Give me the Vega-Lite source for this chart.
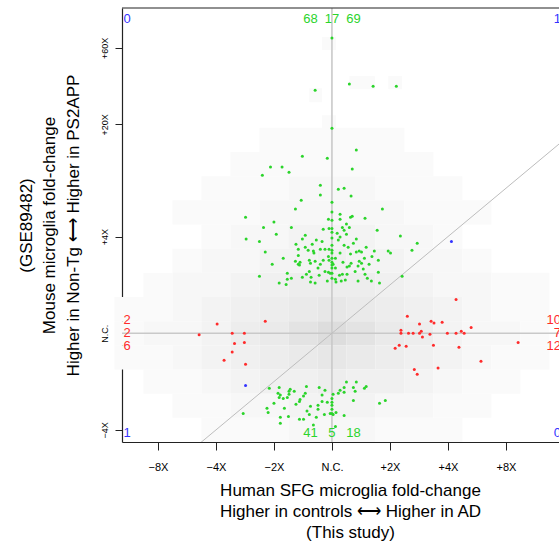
{
  "$schema": "https://vega.github.io/schema/vega-lite/v6.json",
  "width": 437,
  "height": 434,
  "autosize": {"type": "none"},
  "padding": {"left": 122, "top": 8, "right": 0, "bottom": 103},
  "background": "white",
  "view": {"stroke": null},
  "config": {"font": "Liberation Sans"},
  "datasets": {
    "density": [
      {"x1": -0.17, "x2": 0.07, "y1": 5.86, "y2": 6.13, "v": 1},
      {"x1": -0.39, "x2": -0.17, "y1": 4.78, "y2": 5.07, "v": 1},
      {"x1": 0.30, "x2": 0.74, "y1": 5.05, "y2": 5.32, "v": 1},
      {"x1": 0.97, "x2": 1.21, "y1": 5.05, "y2": 5.32, "v": 1},
      {"x1": -0.17, "x2": 0.07, "y1": 4.24, "y2": 4.51, "v": 1},
      {"x1": 0.30, "x2": 0.52, "y1": 3.70, "y2": 3.98, "v": 1},
      {"x1": -1.25, "x2": 1.25, "y1": 3.75, "y2": 4.25, "v": 1},
      {"x1": -1.75, "x2": 1.75, "y1": 3.25, "y2": 3.75, "v": 1},
      {"x1": -2.25, "x2": -0.75, "y1": 2.75, "y2": 3.25, "v": 1},
      {"x1": -0.75, "x2": 0.75, "y1": 2.75, "y2": 3.25, "v": 2},
      {"x1": 0.75, "x2": 2.25, "y1": 2.75, "y2": 3.25, "v": 1},
      {"x1": -2.75, "x2": -1.25, "y1": 2.25, "y2": 2.75, "v": 1},
      {"x1": -1.25, "x2": 1.25, "y1": 2.25, "y2": 2.75, "v": 2},
      {"x1": 1.25, "x2": 2.75, "y1": 2.25, "y2": 2.75, "v": 1},
      {"x1": -2.25, "x2": -1.75, "y1": 1.75, "y2": 2.25, "v": 1},
      {"x1": -1.75, "x2": -0.75, "y1": 1.75, "y2": 2.25, "v": 2},
      {"x1": -0.75, "x2": 0.75, "y1": 1.75, "y2": 2.25, "v": 3},
      {"x1": 0.75, "x2": 1.75, "y1": 1.75, "y2": 2.25, "v": 2},
      {"x1": 1.75, "x2": 2.25, "y1": 1.75, "y2": 2.25, "v": 1},
      {"x1": -2.75, "x2": -2.25, "y1": 1.25, "y2": 1.75, "v": 1},
      {"x1": -2.25, "x2": -1.25, "y1": 1.25, "y2": 1.75, "v": 2},
      {"x1": -1.25, "x2": -0.25, "y1": 1.25, "y2": 1.75, "v": 3},
      {"x1": -0.25, "x2": 0.25, "y1": 1.25, "y2": 1.75, "v": 4},
      {"x1": 0.25, "x2": 1.25, "y1": 1.25, "y2": 1.75, "v": 3},
      {"x1": 1.25, "x2": 2.25, "y1": 1.25, "y2": 1.75, "v": 2},
      {"x1": 2.25, "x2": 2.75, "y1": 1.25, "y2": 1.75, "v": 1},
      {"x1": -3.25, "x2": -2.75, "y1": 0.75, "y2": 1.25, "v": 1},
      {"x1": -2.75, "x2": -1.75, "y1": 0.75, "y2": 1.25, "v": 2},
      {"x1": -1.75, "x2": -1.25, "y1": 0.75, "y2": 1.25, "v": 3},
      {"x1": -1.25, "x2": -0.75, "y1": 0.75, "y2": 1.25, "v": 4},
      {"x1": -0.75, "x2": 0.75, "y1": 0.75, "y2": 1.25, "v": 5},
      {"x1": 0.75, "x2": 1.25, "y1": 0.75, "y2": 1.25, "v": 4},
      {"x1": 1.25, "x2": 1.75, "y1": 0.75, "y2": 1.25, "v": 3},
      {"x1": 1.75, "x2": 2.75, "y1": 0.75, "y2": 1.25, "v": 2},
      {"x1": 2.75, "x2": 3.75, "y1": 0.75, "y2": 1.25, "v": 1},
      {"x1": -3.75, "x2": -2.75, "y1": 0.25, "y2": 0.75, "v": 1},
      {"x1": -2.75, "x2": -2.25, "y1": 0.25, "y2": 0.75, "v": 2},
      {"x1": -2.25, "x2": -1.75, "y1": 0.25, "y2": 0.75, "v": 3},
      {"x1": -1.75, "x2": -1.25, "y1": 0.25, "y2": 0.75, "v": 4},
      {"x1": -1.25, "x2": -0.75, "y1": 0.25, "y2": 0.75, "v": 5},
      {"x1": -0.75, "x2": -0.25, "y1": 0.25, "y2": 0.75, "v": 6},
      {"x1": -0.25, "x2": 0.25, "y1": 0.25, "y2": 0.75, "v": 7},
      {"x1": 0.25, "x2": 0.75, "y1": 0.25, "y2": 0.75, "v": 6},
      {"x1": 0.75, "x2": 1.25, "y1": 0.25, "y2": 0.75, "v": 5},
      {"x1": 1.25, "x2": 1.75, "y1": 0.25, "y2": 0.75, "v": 4},
      {"x1": 1.75, "x2": 2.25, "y1": 0.25, "y2": 0.75, "v": 3},
      {"x1": 2.25, "x2": 2.75, "y1": 0.25, "y2": 0.75, "v": 2},
      {"x1": 2.75, "x2": 3.75, "y1": 0.25, "y2": 0.75, "v": 1},
      {"x1": -3.75, "x2": -3.25, "y1": -0.25, "y2": 0.25, "v": 1},
      {"x1": -3.25, "x2": -2.25, "y1": -0.25, "y2": 0.25, "v": 2},
      {"x1": -2.25, "x2": -1.75, "y1": -0.25, "y2": 0.25, "v": 3},
      {"x1": -1.75, "x2": -1.25, "y1": -0.25, "y2": 0.25, "v": 5},
      {"x1": -1.25, "x2": -0.75, "y1": -0.25, "y2": 0.25, "v": 6},
      {"x1": -0.75, "x2": -0.25, "y1": -0.25, "y2": 0.25, "v": 8},
      {"x1": -0.25, "x2": 0.25, "y1": -0.25, "y2": 0.25, "v": 10},
      {"x1": 0.25, "x2": 0.75, "y1": -0.25, "y2": 0.25, "v": 8},
      {"x1": 0.75, "x2": 1.25, "y1": -0.25, "y2": 0.25, "v": 6},
      {"x1": 1.25, "x2": 1.75, "y1": -0.25, "y2": 0.25, "v": 5},
      {"x1": 1.75, "x2": 2.25, "y1": -0.25, "y2": 0.25, "v": 3},
      {"x1": 2.25, "x2": 3.25, "y1": -0.25, "y2": 0.25, "v": 2},
      {"x1": 3.25, "x2": 3.75, "y1": -0.25, "y2": 0.25, "v": 1},
      {"x1": -3.75, "x2": -2.75, "y1": -0.75, "y2": -0.25, "v": 1},
      {"x1": -2.75, "x2": -2.25, "y1": -0.75, "y2": -0.25, "v": 2},
      {"x1": -2.25, "x2": -1.75, "y1": -0.75, "y2": -0.25, "v": 3},
      {"x1": -1.75, "x2": -1.25, "y1": -0.75, "y2": -0.25, "v": 4},
      {"x1": -1.25, "x2": -0.75, "y1": -0.75, "y2": -0.25, "v": 5},
      {"x1": -0.75, "x2": -0.25, "y1": -0.75, "y2": -0.25, "v": 6},
      {"x1": -0.25, "x2": 0.25, "y1": -0.75, "y2": -0.25, "v": 7},
      {"x1": 0.25, "x2": 0.75, "y1": -0.75, "y2": -0.25, "v": 6},
      {"x1": 0.75, "x2": 1.25, "y1": -0.75, "y2": -0.25, "v": 5},
      {"x1": 1.25, "x2": 1.75, "y1": -0.75, "y2": -0.25, "v": 4},
      {"x1": 1.75, "x2": 2.25, "y1": -0.75, "y2": -0.25, "v": 3},
      {"x1": 2.25, "x2": 2.75, "y1": -0.75, "y2": -0.25, "v": 2},
      {"x1": 2.75, "x2": 3.75, "y1": -0.75, "y2": -0.25, "v": 1},
      {"x1": -3.25, "x2": -2.25, "y1": -1.25, "y2": -0.75, "v": 1},
      {"x1": -2.25, "x2": -1.75, "y1": -1.25, "y2": -0.75, "v": 2},
      {"x1": -1.75, "x2": -1.25, "y1": -1.25, "y2": -0.75, "v": 3},
      {"x1": -1.25, "x2": -0.25, "y1": -1.25, "y2": -0.75, "v": 4},
      {"x1": -0.25, "x2": 0.25, "y1": -1.25, "y2": -0.75, "v": 5},
      {"x1": 0.25, "x2": 1.25, "y1": -1.25, "y2": -0.75, "v": 4},
      {"x1": 1.25, "x2": 1.75, "y1": -1.25, "y2": -0.75, "v": 3},
      {"x1": 1.75, "x2": 2.25, "y1": -1.25, "y2": -0.75, "v": 2},
      {"x1": 2.25, "x2": 3.25, "y1": -1.25, "y2": -0.75, "v": 1},
      {"x1": -2.75, "x2": -1.75, "y1": -1.75, "y2": -1.25, "v": 1},
      {"x1": -1.75, "x2": -0.75, "y1": -1.75, "y2": -1.25, "v": 2},
      {"x1": -0.75, "x2": 0.75, "y1": -1.75, "y2": -1.25, "v": 3},
      {"x1": 0.75, "x2": 1.75, "y1": -1.75, "y2": -1.25, "v": 2},
      {"x1": 1.75, "x2": 2.75, "y1": -1.75, "y2": -1.25, "v": 1},
      {"x1": -2.25, "x2": -0.75, "y1": -2.25, "y2": -1.75, "v": 1},
      {"x1": -0.75, "x2": 0.75, "y1": -2.25, "y2": -1.75, "v": 2},
      {"x1": 0.75, "x2": 2.25, "y1": -2.25, "y2": -1.75, "v": 1}
    ],
    "genes": [
      {"h": 0.30, "m": 5.16, "g": "mouse"}, {"h": 0.71, "m": 5.11, "g": "mouse"}, {"h": 1.11, "m": 5.11, "g": "mouse"},
      {"h": 0.42, "m": 3.79, "g": "mouse"}, {"h": 0.35, "m": 3.40, "g": "mouse"}, {"h": 0.11, "m": 2.98, "g": "mouse"},
      {"h": 0.21, "m": 3.00, "g": "mouse"}, {"h": 0.33, "m": 2.84, "g": "mouse"}, {"h": 0.87, "m": 2.57, "g": "mouse"},
      {"h": 0.14, "m": 2.46, "g": "mouse"}, {"h": 0.14, "m": 2.36, "g": "mouse"}, {"h": 0.32, "m": 2.40, "g": "mouse"},
      {"h": 0.35, "m": 2.42, "g": "mouse"}, {"h": 0.57, "m": 2.38, "g": "mouse"}, {"h": 1.18, "m": 2.01, "g": "mouse"},
      {"h": 1.47, "m": 1.86, "g": "mouse"}, {"h": 1.38, "m": 1.72, "g": "mouse"}, {"h": 1.21, "m": 1.18, "g": "mouse"},
      {"h": 0.78, "m": 2.13, "g": "mouse"}, {"h": 0.25, "m": 2.26, "g": "mouse"}, {"h": 0.18, "m": 2.19, "g": "mouse"},
      {"h": 0.30, "m": 2.19, "g": "mouse"}, {"h": 0.21, "m": 2.13, "g": "mouse"}, {"h": 0.25, "m": 2.05, "g": "mouse"},
      {"h": 0.14, "m": 1.99, "g": "mouse"}, {"h": 0.42, "m": 1.95, "g": "mouse"}, {"h": 0.21, "m": 1.82, "g": "mouse"},
      {"h": 0.28, "m": 1.78, "g": "mouse"}, {"h": 0.59, "m": 1.78, "g": "mouse"}, {"h": 0.73, "m": 1.70, "g": "mouse"},
      {"h": 0.42, "m": 1.68, "g": "mouse"}, {"h": 0.47, "m": 1.70, "g": "mouse"}, {"h": 0.51, "m": 1.68, "g": "mouse"},
      {"h": 0.97, "m": 1.70, "g": "mouse"}, {"h": 1.01, "m": 1.66, "g": "mouse"}, {"h": 0.14, "m": 1.66, "g": "mouse"},
      {"h": 0.32, "m": 1.64, "g": "mouse"}, {"h": 0.06, "m": 1.55, "g": "mouse"}, {"h": 0.02, "m": 1.43, "g": "mouse"},
      {"h": 0.33, "m": 1.45, "g": "mouse"}, {"h": 0.47, "m": 1.49, "g": "mouse"}, {"h": 0.51, "m": 1.45, "g": "mouse"},
      {"h": 0.64, "m": 1.43, "g": "mouse"}, {"h": 0.80, "m": 1.51, "g": "mouse"}, {"h": 0.06, "m": 1.35, "g": "mouse"},
      {"h": 0.26, "m": 1.37, "g": "mouse"}, {"h": 0.30, "m": 1.39, "g": "mouse"}, {"h": 0.45, "m": 1.39, "g": "mouse"},
      {"h": 0.54, "m": 1.33, "g": "mouse"}, {"h": 0.13, "m": 1.20, "g": "mouse"}, {"h": 0.18, "m": 1.22, "g": "mouse"},
      {"h": 0.26, "m": 1.22, "g": "mouse"}, {"h": 0.57, "m": 1.22, "g": "mouse"}, {"h": 0.80, "m": 1.26, "g": "mouse"},
      {"h": 0.06, "m": 1.12, "g": "mouse"}, {"h": 0.16, "m": 1.08, "g": "mouse"}, {"h": 0.23, "m": 1.10, "g": "mouse"},
      {"h": 0.45, "m": 1.08, "g": "mouse"}, {"h": 0.61, "m": 1.14, "g": "mouse"}, {"h": 0.68, "m": 1.08, "g": "mouse"},
      {"h": 0.82, "m": 1.04, "g": "mouse"}, {"h": 0.07, "m": 1.06, "g": "mouse"}, {"h": 0.11, "m": 1.93, "g": "mouse"},
      {"h": 0.37, "m": 1.86, "g": "mouse"}, {"h": 0.19, "m": 1.47, "g": "mouse"}, {"h": 0.40, "m": 1.28, "g": "mouse"},
      {"h": 0.69, "m": 1.59, "g": "mouse"}, {"h": 0.09, "m": 2.07, "g": "mouse"}, {"h": 0.56, "m": 1.55, "g": "mouse"},
      {"h": -0.29, "m": 5.03, "g": "mouse"}, {"h": -0.51, "m": 3.66, "g": "mouse"}, {"h": -0.08, "m": 3.62, "g": "mouse"},
      {"h": -1.06, "m": 3.44, "g": "mouse"}, {"h": -0.86, "m": 3.44, "g": "mouse"}, {"h": -1.20, "m": 3.27, "g": "mouse"},
      {"h": -0.74, "m": 3.33, "g": "mouse"}, {"h": -0.20, "m": 3.06, "g": "mouse"}, {"h": -0.20, "m": 2.86, "g": "mouse"},
      {"h": -0.53, "m": 2.75, "g": "mouse"}, {"h": -0.63, "m": 2.57, "g": "mouse"}, {"h": -1.49, "m": 2.40, "g": "mouse"},
      {"h": -1.00, "m": 2.30, "g": "mouse"}, {"h": -1.18, "m": 2.19, "g": "mouse"}, {"h": -0.70, "m": 2.19, "g": "mouse"},
      {"h": -0.15, "m": 2.15, "g": "mouse"}, {"h": -0.05, "m": 2.17, "g": "mouse"}, {"h": -0.06, "m": 2.36, "g": "mouse"},
      {"h": -1.48, "m": 1.95, "g": "mouse"}, {"h": -1.25, "m": 1.90, "g": "mouse"}, {"h": -0.96, "m": 2.05, "g": "mouse"},
      {"h": -0.51, "m": 1.95, "g": "mouse"}, {"h": -0.46, "m": 2.03, "g": "mouse"}, {"h": -0.27, "m": 1.93, "g": "mouse"},
      {"h": -0.17, "m": 1.90, "g": "mouse"}, {"h": -1.15, "m": 1.68, "g": "mouse"}, {"h": -0.46, "m": 1.78, "g": "mouse"},
      {"h": -0.58, "m": 1.74, "g": "mouse"}, {"h": -0.41, "m": 1.72, "g": "mouse"}, {"h": -0.32, "m": 1.70, "g": "mouse"},
      {"h": -0.20, "m": 1.74, "g": "mouse"}, {"h": -0.12, "m": 1.74, "g": "mouse"}, {"h": -0.05, "m": 1.74, "g": "mouse"},
      {"h": -0.31, "m": 1.66, "g": "mouse"}, {"h": -0.58, "m": 1.61, "g": "mouse"}, {"h": -0.06, "m": 1.59, "g": "mouse"},
      {"h": -0.15, "m": 1.51, "g": "mouse"}, {"h": -0.63, "m": 1.49, "g": "mouse"}, {"h": -0.55, "m": 1.47, "g": "mouse"},
      {"h": -0.39, "m": 1.51, "g": "mouse"}, {"h": -0.37, "m": 1.45, "g": "mouse"}, {"h": -0.29, "m": 1.49, "g": "mouse"},
      {"h": -0.58, "m": 1.43, "g": "mouse"}, {"h": -0.20, "m": 1.43, "g": "mouse"}, {"h": -1.03, "m": 1.43, "g": "mouse"},
      {"h": -0.39, "m": 1.28, "g": "mouse"}, {"h": -0.12, "m": 1.28, "g": "mouse"}, {"h": -0.06, "m": 1.26, "g": "mouse"},
      {"h": -0.77, "m": 1.24, "g": "mouse"}, {"h": -0.44, "m": 1.22, "g": "mouse"}, {"h": -0.03, "m": 1.24, "g": "mouse"},
      {"h": -1.25, "m": 1.18, "g": "mouse"}, {"h": -0.70, "m": 1.14, "g": "mouse"}, {"h": -0.77, "m": 1.12, "g": "mouse"},
      {"h": -0.51, "m": 1.16, "g": "mouse"}, {"h": -0.36, "m": 1.16, "g": "mouse"}, {"h": -0.22, "m": 1.20, "g": "mouse"},
      {"h": -0.91, "m": 1.04, "g": "mouse"}, {"h": -0.79, "m": 1.01, "g": "mouse"}, {"h": -0.37, "m": 1.06, "g": "mouse"},
      {"h": -0.29, "m": 1.04, "g": "mouse"}, {"h": -0.08, "m": 1.08, "g": "mouse"}, {"h": -0.05, "m": 1.51, "g": "mouse"},
      {"h": -0.56, "m": 1.41, "g": "mouse"}, {"h": -0.24, "m": 1.35, "g": "mouse"}, {"h": -0.62, "m": 1.84, "g": "mouse"},
      {"h": -0.84, "m": 1.55, "g": "mouse"}, {"h": -0.34, "m": 1.84, "g": "mouse"},
      {"h": 0, "m": 6.11, "g": "mouse"}, {"h": 0, "m": 4.24, "g": "mouse"}, {"h": 0, "m": 2.71, "g": "mouse"},
      {"h": 0, "m": 2.51, "g": "mouse"}, {"h": 0, "m": 2.34, "g": "mouse"}, {"h": 0, "m": 2.17, "g": "mouse"},
      {"h": 0, "m": 2.09, "g": "mouse"}, {"h": 0, "m": 1.97, "g": "mouse"}, {"h": 0, "m": 1.82, "g": "mouse"},
      {"h": 0, "m": 1.72, "g": "mouse"}, {"h": 0, "m": 1.66, "g": "mouse"}, {"h": 0, "m": 1.55, "g": "mouse"},
      {"h": 0, "m": 1.47, "g": "mouse"}, {"h": 0, "m": 1.41, "g": "mouse"}, {"h": 0, "m": 1.35, "g": "mouse"},
      {"h": 0, "m": 1.24, "g": "mouse"}, {"h": 0, "m": 1.14, "g": "mouse"},
      {"h": -1.08, "m": -1.14, "g": "mouse"}, {"h": -0.91, "m": -1.12, "g": "mouse"}, {"h": -0.72, "m": -1.16, "g": "mouse"},
      {"h": -0.74, "m": -1.20, "g": "mouse"}, {"h": -0.65, "m": -1.20, "g": "mouse"}, {"h": -0.44, "m": -1.10, "g": "mouse"},
      {"h": -0.22, "m": -1.12, "g": "mouse"}, {"h": -0.12, "m": -1.18, "g": "mouse"}, {"h": -0.93, "m": -1.24, "g": "mouse"},
      {"h": -0.89, "m": -1.28, "g": "mouse"}, {"h": -0.74, "m": -1.26, "g": "mouse"}, {"h": -0.77, "m": -1.33, "g": "mouse"},
      {"h": -0.84, "m": -1.35, "g": "mouse"}, {"h": -0.55, "m": -1.37, "g": "mouse"}, {"h": -0.56, "m": -1.41, "g": "mouse"},
      {"h": -0.49, "m": -1.30, "g": "mouse"}, {"h": -0.46, "m": -1.24, "g": "mouse"}, {"h": -0.17, "m": -1.28, "g": "mouse"},
      {"h": -0.17, "m": -1.41, "g": "mouse"}, {"h": -0.08, "m": -1.43, "g": "mouse"}, {"h": -1.12, "m": -1.55, "g": "mouse"},
      {"h": -1.10, "m": -1.64, "g": "mouse"}, {"h": -0.89, "m": -1.74, "g": "mouse"}, {"h": -0.75, "m": -1.72, "g": "mouse"},
      {"h": -0.56, "m": -1.78, "g": "mouse"}, {"h": -0.49, "m": -1.78, "g": "mouse"}, {"h": -0.43, "m": -1.61, "g": "mouse"},
      {"h": -0.39, "m": -1.68, "g": "mouse"}, {"h": -0.27, "m": -1.74, "g": "mouse"}, {"h": -0.13, "m": -1.68, "g": "mouse"},
      {"h": -0.03, "m": -1.66, "g": "mouse"}, {"h": -0.89, "m": -1.86, "g": "mouse"}, {"h": -0.32, "m": -1.90, "g": "mouse"},
      {"h": -1.53, "m": -1.66, "g": "mouse"}, {"h": -0.91, "m": -1.33, "g": "mouse"}, {"h": -0.24, "m": -1.49, "g": "mouse"},
      {"h": -0.62, "m": -1.47, "g": "mouse"}, {"h": -0.37, "m": -1.51, "g": "mouse"}, {"h": -1.00, "m": -1.45, "g": "mouse"},
      {"h": -0.24, "m": -1.57, "g": "mouse"}, {"h": -0.82, "m": -1.55, "g": "mouse"},
      {"h": 0, "m": -1.35, "g": "mouse"}, {"h": 0, "m": -1.43, "g": "mouse"}, {"h": 0, "m": -1.49, "g": "mouse"},
      {"h": 0, "m": -1.57, "g": "mouse"}, {"h": 0, "m": -1.66, "g": "mouse"},
      {"h": 0.02, "m": -1.26, "g": "mouse"}, {"h": 0.11, "m": -1.24, "g": "mouse"}, {"h": 0.21, "m": -1.12, "g": "mouse"},
      {"h": 0.21, "m": -1.22, "g": "mouse"}, {"h": 0.25, "m": -1.01, "g": "mouse"}, {"h": 0.42, "m": -1.01, "g": "mouse"},
      {"h": 0.37, "m": -1.12, "g": "mouse"}, {"h": 0.40, "m": -1.20, "g": "mouse"}, {"h": 0.56, "m": -1.14, "g": "mouse"},
      {"h": 0.59, "m": -1.10, "g": "mouse"}, {"h": 0.37, "m": -1.39, "g": "mouse"}, {"h": 0.82, "m": -1.45, "g": "mouse"},
      {"h": 0.92, "m": -1.39, "g": "mouse"}, {"h": 0.07, "m": -1.64, "g": "mouse"}, {"h": 0.21, "m": -1.70, "g": "mouse"},
      {"h": 0.02, "m": -1.68, "g": "mouse"}, {"h": 0.06, "m": -1.93, "g": "mouse"}, {"h": 0.14, "m": -1.18, "g": "mouse"},
      {"h": -1.98, "m": 0.19, "g": "human"}, {"h": -1.15, "m": 0.25, "g": "human"}, {"h": -1.72, "m": 0, "g": "human"},
      {"h": -1.51, "m": 0, "g": "human"}, {"h": -2.29, "m": -0.03, "g": "human"}, {"h": -1.68, "m": -0.21, "g": "human"},
      {"h": -1.51, "m": -0.19, "g": "human"}, {"h": -1.72, "m": -0.39, "g": "human"}, {"h": -1.86, "m": -0.56, "g": "human"},
      {"h": -1.49, "m": -0.64, "g": "human"},
      {"h": 2.14, "m": 0.70, "g": "human"}, {"h": 1.30, "m": 0.35, "g": "human"}, {"h": 1.51, "m": 0.19, "g": "human"},
      {"h": 1.71, "m": 0.25, "g": "human"}, {"h": 1.76, "m": 0.21, "g": "human"}, {"h": 1.90, "m": 0.23, "g": "human"},
      {"h": 2.40, "m": 0.12, "g": "human"}, {"h": 1.19, "m": 0.06, "g": "human"}, {"h": 1.54, "m": 0.04, "g": "human"},
      {"h": 2.23, "m": 0.04, "g": "human"},
      {"h": 1.19, "m": 0, "g": "human"}, {"h": 1.32, "m": 0, "g": "human"}, {"h": 1.40, "m": 0, "g": "human"},
      {"h": 1.51, "m": 0, "g": "human"}, {"h": 1.99, "m": 0, "g": "human"}, {"h": 2.14, "m": 0, "g": "human"},
      {"h": 2.28, "m": 0, "g": "human"},
      {"h": 1.69, "m": -0.02, "g": "human"}, {"h": 1.56, "m": -0.08, "g": "human"}, {"h": 3.21, "m": -0.19, "g": "human"},
      {"h": 1.09, "m": -0.31, "g": "human"}, {"h": 1.16, "m": -0.25, "g": "human"}, {"h": 1.28, "m": -0.27, "g": "human"},
      {"h": 1.75, "m": -0.25, "g": "human"}, {"h": 2.19, "m": -0.29, "g": "human"}, {"h": 2.57, "m": -0.58, "g": "human"},
      {"h": 1.42, "m": -0.75, "g": "human"}, {"h": 1.47, "m": -0.85, "g": "human"}, {"h": 1.83, "m": -0.72, "g": "human"},
      {"h": 2.06, "m": 1.90, "g": "both"}, {"h": -1.49, "m": -1.08, "g": "both"}
    ],
    "counts": [
      {"h": -3.62, "m": 6.51, "t": "0", "g": "both", "p": "L"},
      {"h": -3.62, "m": 0.27, "t": "2", "g": "human", "p": "L"},
      {"h": -3.62, "m": 0, "t": "2", "g": "human", "p": "L"},
      {"h": -3.62, "m": -0.27, "t": "6", "g": "human", "p": "L"},
      {"h": -3.62, "m": -2.06, "t": "1", "g": "both", "p": "L"},
      {"h": -0.37, "m": 6.51, "t": "68", "g": "mouse", "p": "C"},
      {"h": 0, "m": 6.51, "t": "17", "g": "mouse", "p": "C"},
      {"h": 0.37, "m": 6.51, "t": "69", "g": "mouse", "p": "C"},
      {"h": -0.37, "m": -2.06, "t": "41", "g": "mouse", "p": "C"},
      {"h": 0, "m": -2.06, "t": "5", "g": "mouse", "p": "C"},
      {"h": 0.37, "m": -2.06, "t": "18", "g": "mouse", "p": "C"},
      {"h": 3.915, "m": 6.51, "t": "1", "g": "both", "p": "R"},
      {"h": 3.915, "m": 0.27, "t": "10", "g": "human", "p": "R"},
      {"h": 3.915, "m": 0, "t": "7", "g": "human", "p": "R"},
      {"h": 3.915, "m": -0.27, "t": "12", "g": "human", "p": "R"},
      {"h": 3.915, "m": -2.06, "t": "0", "g": "both", "p": "R"}
    ]
  },
  "layer": [
    {
      "data": {"name": "density"},
      "mark": {"type": "rect", "strokeWidth": 0},
      "encoding": {
        "x": {
          "field": "x1", "type": "quantitative",
          "scale": {"domain": [-3.62, 3.915], "nice": false, "zero": false},
          "axis": {
            "values": [-3, -2, -1, 0, 1, 2, 3],
            "labelExpr": "datum.value == 0 ? 'N.C.' : (datum.value < 0 ? '−' : '+') + pow(2, abs(datum.value)) + 'X'",
            "labelFontSize": 11, "labelColor": "black", "labelPadding": 11, "labelBaseline": "top",
            "labelFlush": false, "labelOverlap": false,
            "tickSize": 8, "tickColor": "#222", "tickWidth": 1,
            "domainColor": "#222", "domainWidth": 1.2, "grid": false,
            "title": ["Human SFG microglia fold-change", "Higher in controls ⟷ Higher in AD", "(This study)"],
            "titleFontSize": 17, "titleFontWeight": "normal", "titleColor": "black",
            "titleLineHeight": 21, "titleX": 228, "titleY": 53, "titleBaseline": "alphabetic", "titleAlign": "center"
          }
        },
        "x2": {"field": "x2"},
        "y": {
          "field": "y1", "type": "quantitative",
          "scale": {"domain": [-2.25, 6.73], "nice": false, "zero": false},
          "axis": {
            "values": [-2, 0, 2, 4.3219, 5.9069],
            "labelExpr": "datum.value < -1 ? '−4X' : datum.value < 1 ? 'N.C.' : datum.value < 3 ? '+4X' : datum.value < 5 ? '+20X' : '+60X'",
            "labelAngle": -90, "labelAlign": "center", "labelBaseline": "alphabetic",
            "labelFontSize": 9, "labelColor": "black", "labelPadding": 8,
            "labelFlush": false, "labelOverlap": false,
            "tickSize": 7, "tickColor": "#222", "tickWidth": 1,
            "domainColor": "#222", "domainWidth": 1.2, "grid": false,
            "title": ["(GSE89482)", "Mouse microglia fold-change", "Higher in Non-Tg ⟷ Higher in PS2APP"],
            "titleFontSize": 17, "titleFontWeight": "normal", "titleColor": "black",
            "titleLineHeight": 23.5, "titleX": -91, "titleBaseline": "alphabetic", "titleAngle": -90, "titleAlign": "center"
          }
        },
        "y2": {"field": "y2"},
        "fill": {
          "field": "v", "type": "quantitative",
          "scale": {"domain": [1, 10], "range": ["#fafafa", "#dddddd"]},
          "legend": null
        }
      }
    },
    {
      "data": {"values": [{}]},
      "mark": {"type": "rule", "color": "#c9c9c9", "strokeWidth": 1.6},
      "encoding": {"x": {"datum": 0}}
    },
    {
      "data": {"values": [{}]},
      "mark": {"type": "rule", "color": "#c9c9c9", "strokeWidth": 1.6},
      "encoding": {"y": {"datum": 0}}
    },
    {
      "data": {"values": [{}]},
      "mark": {"type": "rule", "color": "#bdbdbd", "strokeWidth": 1, "clip": true},
      "encoding": {"x": {"datum": -3}, "y": {"datum": -3}, "x2": {"datum": 5}, "y2": {"datum": 5}}
    },
    {
      "data": {"values": [{}]},
      "mark": {"type": "rule", "color": "#222", "strokeWidth": 1.2},
      "encoding": {"y": {"datum": 6.73}}
    },
    {
      "data": {"name": "genes"},
      "mark": {"type": "circle", "opacity": 1},
      "encoding": {
        "x": {"field": "h", "type": "quantitative"},
        "y": {"field": "m", "type": "quantitative"},
        "color": {
          "field": "g", "type": "nominal",
          "scale": {"domain": ["mouse", "human", "both"], "range": ["#2bd42b", "#ff2b2b", "#3333ff"]},
          "legend": null
        },
        "size": {
          "field": "g", "type": "nominal",
          "scale": {"domain": ["mouse", "human", "both"], "range": [9, 9, 16]},
          "legend": null
        }
      }
    },
    {
      "data": {"name": "counts"},
      "transform": [{"filter": "datum.p == 'L'"}],
      "mark": {"type": "text", "align": "left", "baseline": "middle", "fontSize": 13, "dx": 1.5},
      "encoding": {
        "x": {"field": "h", "type": "quantitative"},
        "y": {"field": "m", "type": "quantitative"},
        "text": {"field": "t"},
        "color": {"field": "g", "type": "nominal", "legend": null}
      }
    },
    {
      "data": {"name": "counts"},
      "transform": [{"filter": "datum.p == 'C'"}],
      "mark": {"type": "text", "align": "center", "baseline": "middle", "fontSize": 13},
      "encoding": {
        "x": {"field": "h", "type": "quantitative"},
        "y": {"field": "m", "type": "quantitative"},
        "text": {"field": "t"},
        "color": {"field": "g", "type": "nominal", "legend": null}
      }
    },
    {
      "data": {"name": "counts"},
      "transform": [{"filter": "datum.p == 'R'"}],
      "mark": {"type": "text", "align": "right", "baseline": "middle", "fontSize": 13, "dx": 2},
      "encoding": {
        "x": {"field": "h", "type": "quantitative"},
        "y": {"field": "m", "type": "quantitative"},
        "text": {"field": "t"},
        "color": {"field": "g", "type": "nominal", "legend": null}
      }
    }
  ]
}
